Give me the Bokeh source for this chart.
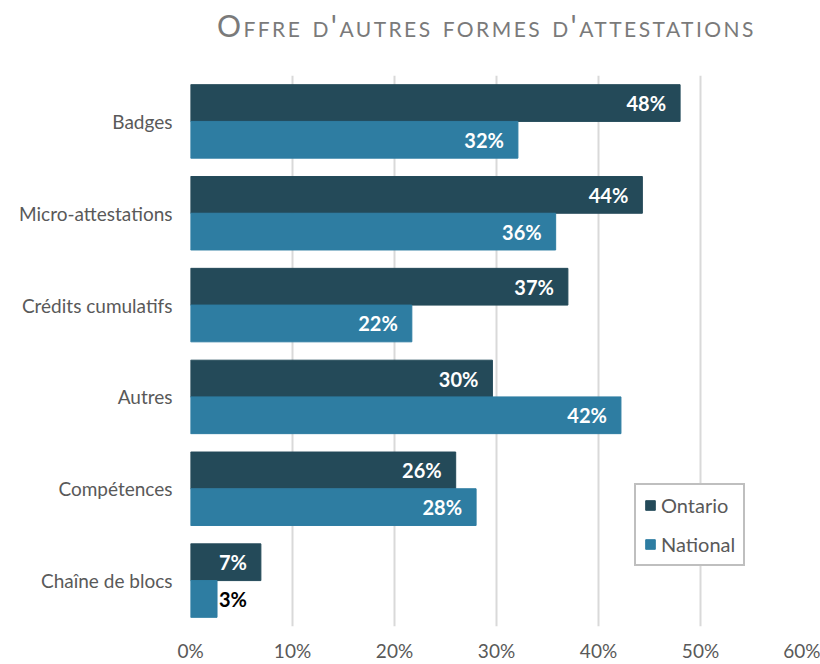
from bokeh.plotting import figure
from bokeh.models import ColumnDataSource, FactorRange, FixedTicker, PrintfTickFormatter, Legend, LegendItem, Div
from bokeh.transform import dodge
from bokeh.layouts import column
from bokeh.core.properties import value
from bokeh.embed import file_html
from bokeh.resources import INLINE

# ---- data ----
categories = ["Badges", "Micro-attestations", "Crédits cumulatifs", "Autres", "Compétences", "Chaîne de blocs"]
ontario = [48.0, 44.3, 37.0, 29.6, 26.0, 6.9]
national = [32.1, 35.8, 21.7, 42.2, 28.0, 2.6]
series_names = ["Ontario", "National"]
x_ticks = [0, 10, 20, 30, 40, 50, 60]
title_text = "Offre d'autres formes d'attestations"

# ---- styles ----
FONT = "Lato"
colors = {"Ontario": "#244A59", "National": "#2E7DA2"}
W = 820
DIV_H = 56
FIG_H = 664 - DIV_H


def label_cols(vals):
    txt = [f"{round(v):d}%" for v in vals]
    col = ["white" if v >= 5 else "black" for v in vals]
    align = ["right" if v >= 5 else "left" for v in vals]
    off = [-14 if v >= 5 else 2 for v in vals]
    return txt, col, align, off


o_txt, o_col, o_align, o_off = label_cols(ontario)
n_txt, n_col, n_align, n_off = label_cols(national)

src = ColumnDataSource(dict(
    cat=categories, ontario=ontario, national=national,
    o_txt=o_txt, o_col=o_col, o_align=o_align, o_off=o_off,
    n_txt=n_txt, n_col=n_col, n_align=n_align, n_off=n_off,
))

p = figure(width=W, height=FIG_H, output_backend="svg", toolbar_location=None,
           x_range=(0, 60), y_range=FactorRange(factors=categories[::-1], range_padding=0),
           min_border_left=190, min_border_right=18, min_border_top=19, min_border_bottom=34)
p.outline_line_color = None
p.background_fill_color = "white"
p.border_fill_color = "white"

r_o = p.hbar(y=dodge("cat", 0.2, range=p.y_range), right="ontario", left=0, height=0.4,
             source=src, fill_color=colors["Ontario"], line_color=colors["Ontario"])
r_n = p.hbar(y=dodge("cat", -0.2, range=p.y_range), right="national", left=0, height=0.4,
             source=src, fill_color=colors["National"], line_color=colors["National"])

p.text(x="ontario", y=dodge("cat", 0.2, range=p.y_range), text="o_txt", source=src,
       text_color="o_col", text_align="o_align", x_offset="o_off", text_baseline="middle",
       text_font=value(FONT), text_font_style="bold", text_font_size="20px")
p.text(x="national", y=dodge("cat", -0.2, range=p.y_range), text="n_txt", source=src,
       text_color="n_col", text_align="n_align", x_offset="n_off", text_baseline="middle",
       text_font=value(FONT), text_font_style="bold", text_font_size="20px")

# axes
p.xaxis.ticker = FixedTicker(ticks=x_ticks)
p.xaxis.formatter = PrintfTickFormatter(format="%d%%")
for ax in (p.xaxis[0], p.yaxis[0]):
    ax.axis_line_color = None
    ax.major_tick_line_color = None
    ax.minor_tick_line_color = None
    ax.major_tick_out = 0
    ax.major_tick_in = 0
    ax.major_label_text_font = FONT
    ax.major_label_text_font_size = "19px"
    ax.major_label_text_color = "#595959"
p.xaxis.major_label_standoff = 12
p.yaxis.major_label_standoff = 18

p.xgrid.ticker = FixedTicker(ticks=x_ticks)
p.xgrid.grid_line_color = "#d9d9d9"
p.xgrid.grid_line_width = 2
p.ygrid.grid_line_color = None

legend = Legend(items=[LegendItem(label=series_names[0], renderers=[r_o]),
                       LegendItem(label=series_names[1], renderers=[r_n])],
                location=(444, 60))
legend.label_text_font = FONT
legend.label_text_font_size = "20px"
legend.label_text_color = "#595959"
legend.label_height = 24
legend.glyph_width = 12
legend.glyph_height = 12
legend.label_standoff = 5
legend.padding = 8
legend.spacing = 15
legend.margin = 0
legend.border_line_color = "#7f7f7f"
legend.border_line_width = 2
legend.background_fill_color = "white"
legend.background_fill_alpha = 1
p.add_layout(legend, "center")

title = Div(text=(f'<div style="font-family:{FONT};font-size:30px;font-variant:small-caps;'
                  f'letter-spacing:2.45px;color:#7a7a7a;padding-left:217px;'
                  f'line-height:1;padding-top:10px;white-space:nowrap;">{title_text}</div>'),
            width=W, height=DIV_H, margin=(0, 0, 0, 0))

layout = column(title, p, spacing=0)
open("out.html", "w").write(file_html(layout, INLINE))
